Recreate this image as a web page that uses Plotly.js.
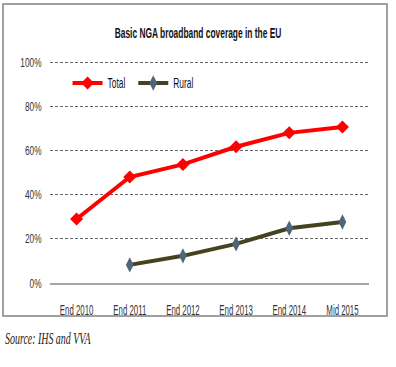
<!DOCTYPE html>
<html>
<head>
<meta charset="utf-8">
<script src="https://cdn.plot.ly/plotly-3.0.1.min.js"></script>
<style>html,body{margin:0;padding:0;background:#fff;}#chart{width:396px;height:367px;}</style>
</head>
<body>
<div id="chart"></div>
<script>
const categories = ["End 2010", "End 2011", "End 2012", "End 2013", "End 2014", "Mid 2015"];
const totalValues = [29, 48, 53.7, 61.7, 68, 70.7];
const ruralValues = [null, 8.2, 12.3, 17.7, 24.8, 27.6];
const yTicks = [0, 20, 40, 60, 80, 100];
const yTickLabels = ["0%", "20%", "40%", "60%", "80%", "100%"];

const sans = "Liberation Sans, Arial, sans-serif";
const serif = "Liberation Serif, Times New Roman, serif";

const traces = [
  {
    x: categories, y: totalValues, name: "Total", type: "scatter", mode: "lines+markers",
    line: {color: "#ff0000", width: 4},
    marker: {symbol: "diamond", size: 10, color: "#ff0000"}
  },
  {
    x: categories, y: ruralValues, name: "Rural", type: "scatter", mode: "lines+markers",
    line: {color: "#44421f", width: 4},
    marker: {symbol: "diamond-tall", size: 11, color: "#4d6678"}
  }
];

const layout = {
  width: 396, height: 367,
  margin: {l: 50, r: 27, t: 60, b: 84},
  paper_bgcolor: "#fff", plot_bgcolor: "#fff",
  title: {
    text: "Basic NGA broadband coverage in the EU",
    font: {family: sans, size: 15, color: "#111", weight: "bold"},
    x: 0.5, xanchor: "center", y: 1 - 33/367, yanchor: "middle"
  },
  showlegend: true,
  legend: {
    orientation: "h", x: 0.055, y: 0.895, xanchor: "left", yanchor: "middle",
    font: {family: sans, size: 14, color: "#111"},
    bgcolor: "rgba(0,0,0,0)", tracegroupgap: 0
  },
  xaxis: {
    type: "category", range: [-0.5, 5.5],
    showline: true, linecolor: "#a6a6a6", linewidth: 2,
    showgrid: false, zeroline: false, tickangle: 0,
    ticks: "outside", ticklen: 13, tickcolor: "rgba(0,0,0,0)",
    tickfont: {family: sans, size: 14, color: "#333"}
  },
  yaxis: {
    range: [0, 101], tickvals: yTicks, ticktext: yTickLabels,
    showline: false, zeroline: false,
    showgrid: true, gridcolor: "#666", griddash: "3px,2px", gridwidth: 1,
    ticks: "outside", ticklen: 5, tickcolor: "rgba(0,0,0,0)",
    tickfont: {family: sans, size: 13, color: "#333"}
  },
  shapes: [
    {type: "rect", xref: "paper", yref: "paper",
     x0: (3-50)/319, x1: (387-50)/319, y0: (283-316)/223, y1: (283-4)/223,
     line: {color: "#a0a0a0", width: 2}, fillcolor: "rgba(0,0,0,0)", layer: "below"}
  ],
  annotations: [
    {text: "<i>Source: IHS and VVA</i>", xref: "paper", yref: "paper",
     x: (3-50)/319, y: (283-338)/223, xanchor: "left", yanchor: "middle",
     showarrow: false, font: {family: serif, size: 16, color: "#222"}}
  ]
};

// Narrow text horizontally about its anchor point (the reference uses a condensed face)
function squeeze(sel, factor, anchor) {
  document.querySelectorAll(sel).forEach(t => {
    const bb = t.getBBox();
    if (!bb.width) return;
    let ax;
    if (anchor === "left") ax = bb.x;
    else if (anchor === "right") ax = bb.x + bb.width;
    else ax = bb.x + bb.width / 2;
    const prev = t.getAttribute("transform") || "";
    t.setAttribute("transform",
      prev + " translate(" + ax.toFixed(2) + ",0) scale(" + factor + ",1) translate(" + (-ax).toFixed(2) + ",0)");
  });
}

Plotly.newPlot("chart", traces, layout, {displayModeBar: false, staticPlot: true}).then(gd => {
  squeeze(".gtitle", 0.56, "center");
  squeeze(".xtick text", 0.56, "center");
  squeeze(".ytick text", 0.64, "right");
  squeeze(".legendtext", 0.6, "left");
  squeeze(".annotation-text", 0.62, "left");
  // tighten legend spacing after narrowing the legend text
  const items = document.querySelectorAll(".legend .traces");
  if (items.length > 1) {
    const first = items[0], second = items[1];
    const firstText = first.querySelector(".legendtext");
    const re = /translate\(([-\d.]+)[ ,]+([-\d.]+)\)/;
    const m1 = re.exec(first.getAttribute("transform"));
    const m2 = re.exec(second.getAttribute("transform"));
    if (m1 && m2 && firstText) {
      const bb = firstText.getBBox();
      const nx = parseFloat(m1[1]) + bb.x + bb.width * 0.6 + 8;
      second.setAttribute("transform", "translate(" + nx.toFixed(2) + "," + m2[2] + ")");
    }
  }
});
</script>
</body>
</html>
